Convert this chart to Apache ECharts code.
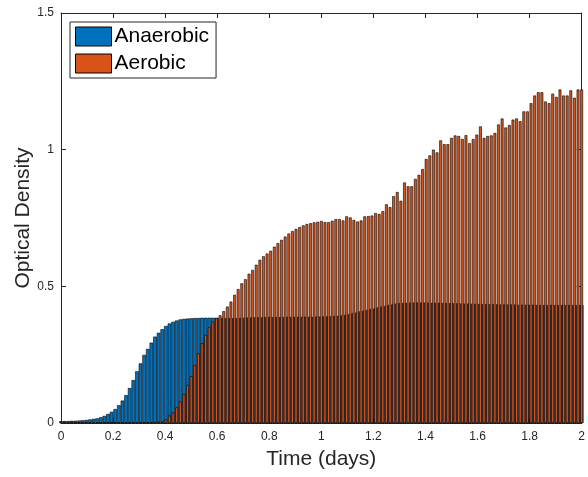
<!DOCTYPE html>
<html>
<head>
<meta charset="utf-8">
<script src="https://cdn.jsdelivr.net/npm/echarts@6/dist/echarts.min.js"></script>
<style>html,body{margin:0;padding:0;background:#fff}#c{width:588px;height:477px}</style>
</head>
<body>
<div id="c"></div>
<script>
// Samples every 20 minutes (1/72 day), 0 to 2 days
const samplesPerDay = 72;
const seriesNames = ['Anaerobic', 'Aerobic'];
const xTickLabels = ['0','0.2','0.4','0.6','0.8','1','1.2','1.4','1.6','1.8','2'];
const yTickLabels = ['0','0.5','1','1.5'];

const anaerobic = [
  0.006,0.007,0.007,0.008,0.008,0.009,0.010,0.011,0.013,0.015,0.017,
  0.021,0.026,0.033,0.041,0.051,0.065,0.082,0.102,0.128,0.157,0.189,0.218,0.249,0.271,0.294,0.316,0.330,
  0.343,0.355,0.364,0.370,0.375,0.379,0.381,0.382,0.383,
  0.384,0.384,0.385,0.385,0.385,0.385,0.385,0.384,0.384,0.384,0.384,0.384,0.384,0.385,
  0.386,0.386,0.387,0.387,0.387,0.388,0.388,0.388,0.388,0.388,0.388,0.388,0.389,0.389,0.389,0.389,0.389,0.389,0.389,0.389,0.390,0.390,0.390,0.391,0.391,0.392,0.393,
  0.395,0.397,0.400,0.403,0.406,0.409,0.412,0.415,0.418,0.421,0.424,0.427,0.430,0.433,0.436,0.438,
  0.439,0.440,0.440,0.441,0.441,0.441,0.441,0.441,0.440,0.440,
  0.440,0.440,0.439,0.439,0.439,0.438,0.438,0.437,0.437,0.437,
  0.436,0.436,0.436,0.435,0.435,0.435,0.435,0.434,0.434,0.434,
  0.434,0.434,0.433,0.433,0.433,0.433,0.433,0.433,0.432,0.432,
  0.432,0.432,0.432,0.432,0.432,0.432,0.432,0.432,0.432,0.432,0.432
];

const aerobic = [
  0.006,0.005,0.004,0.004,0.003,0.003,0.003,0.003,0.003,0.003,0.003,0.003,0.003,0.003,
  0.003,0.003,0.003,0.003,0.003,0.003,0.003,0.003,0.003,0.003,0.003,0.003,0.004,0.005,
  0.006,0.013,0.027,0.039,0.057,0.078,0.106,0.139,0.171,0.212,0.255,0.292,0.322,0.350,0.370,
  0.383,0.394,0.409,0.426,0.444,0.469,0.490,0.511,0.526,0.546,0.560,0.579,0.597,0.610,0.620,
  0.630,0.645,0.658,0.670,0.682,0.693,0.702,0.710,0.717,0.723,0.728,0.731,0.734,0.736,
  0.739,0.735,0.735,0.740,0.746,0.746,0.741,0.756,0.752,0.743,0.737,0.741,0.756,0.757,0.759,0.768,0.765,
  0.775,0.800,0.790,0.830,0.845,
  0.813,0.880,0.866,0.866,0.893,0.908,0.929,0.966,0.979,1.000,
  0.990,1.034,1.020,1.020,1.043,1.052,1.050,1.039,1.053,1.024,
  1.039,1.055,1.085,1.043,1.050,1.052,1.061,1.092,1.114,1.081,
  1.090,1.110,1.114,1.104,1.140,1.140,1.170,1.198,1.210,1.210,
  1.176,1.170,1.205,1.193,1.220,1.198,1.198,1.217,1.190,1.220,1.220
];

const timeDays = anaerobic.map((_, i) => i / samplesPerDay);
const anaerobicData = timeDays.map((t, i) => [t, anaerobic[i]]);
const aerobicData = timeDays.map((t, i) => [t, aerobic[i]]);

const axisColor = '#262626';
const font = 'Liberation Sans, Arial, Helvetica, sans-serif';

function fmtX(v){ const s = +v.toFixed(1); return xTickLabels.includes(String(s)) ? String(s) : ''; }
function fmtY(v){ const s = +v.toFixed(1); return yTickLabels.includes(String(s)) ? String(s) : ''; }

const chart = echarts.init(document.getElementById('c'), null, {renderer: 'canvas'});
chart.setOption({
  animation: false,
  backgroundColor: '#fff',
  textStyle: {fontFamily: font},
  grid: {left: 61, right: 6, top: 13, bottom: 54, containLabel: false},
  legend: {
    data: seriesNames,
    orient: 'vertical',
    left: 70, top: 22,
    itemWidth: 36, itemHeight: 19, itemGap: 6,
    padding: [4, 7, 4, 5],
    backgroundColor: '#fff',
    borderColor: axisColor, borderWidth: 1,
    icon: 'rect',
    itemStyle: {borderColor: '#000', borderWidth: 1},
    textStyle: {fontSize: 21, color: '#000', fontFamily: font, padding: [0,0,0,-2]}
  },
  xAxis: [
    {
      type: 'value', min: 0, max: 2, interval: 0.2, position: 'bottom',
      name: 'Time (days)', nameLocation: 'middle', nameGap: 26, nameMoveOverlap: false,
      nameTextStyle: {fontSize: 21, color: axisColor, fontFamily: font},
      axisLine: {show: true, onZero: false, lineStyle: {color: axisColor, width: 1}},
      axisTick: {show: true, inside: true, length: 5, lineStyle: {color: axisColor}},
      axisLabel: {fontSize: 12, color: axisColor, margin: 8, formatter: fmtX, fontFamily: font},
      splitLine: {show: false}
    },
    {
      type: 'value', min: 0, max: 2, interval: 0.2, position: 'top',
      axisLine: {show: true, onZero: false, lineStyle: {color: axisColor, width: 1}},
      axisTick: {show: true, inside: true, length: 5, lineStyle: {color: axisColor}},
      axisLabel: {show: false},
      splitLine: {show: false}
    }
  ],
  yAxis: [
    {
      type: 'value', min: 0, max: 1.5, interval: 0.5, position: 'left',
      name: 'Optical Density', nameLocation: 'middle', nameGap: 27, nameMoveOverlap: false,
      nameTextStyle: {fontSize: 21, color: axisColor, fontFamily: font},
      axisLine: {show: true, onZero: false, lineStyle: {color: axisColor, width: 1}},
      axisTick: {show: true, inside: true, length: 5, lineStyle: {color: axisColor}},
      axisLabel: {fontSize: 12, color: axisColor, margin: 7, formatter: fmtY, fontFamily: font},
      splitLine: {show: false}
    },
    {
      type: 'value', min: 0, max: 1.5, interval: 0.5, position: 'right',
      axisLine: {show: true, onZero: false, lineStyle: {color: axisColor, width: 1}},
      axisTick: {show: true, inside: true, length: 5, lineStyle: {color: axisColor}},
      axisLabel: {show: false},
      splitLine: {show: false}
    }
  ],
  series: [
    {
      name: seriesNames[0], type: 'bar', xAxisIndex: 0, yAxisIndex: 0,
      data: anaerobicData, barWidth: 3.6, clip: true,
      itemStyle: {color: '#0072BD', borderColor: '#000', borderWidth: 0.6}
    },
    {
      name: seriesNames[1], type: 'bar', xAxisIndex: 1, yAxisIndex: 0,
      data: aerobicData, barWidth: 2.8, clip: true,
      itemStyle: {color: '#D95319', borderColor: '#000', borderWidth: 0.6}
    }
  ]
});
</script>
</body>
</html>
